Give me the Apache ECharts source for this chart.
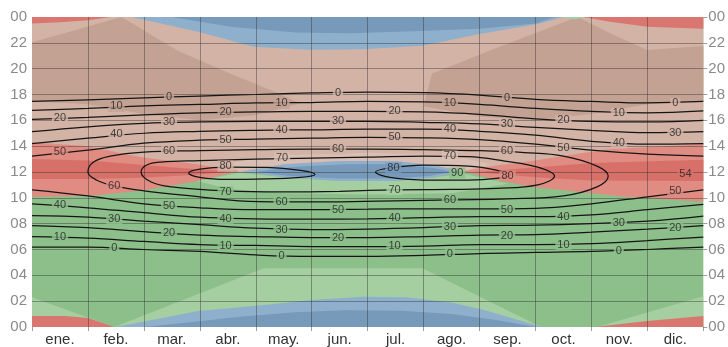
<!DOCTYPE html>
<html><head><meta charset="utf-8">
<script src="https://cdn.jsdelivr.net/npm/echarts@6/dist/echarts.min.js"></script>
<style>html,body{margin:0;padding:0;background:#fff}#c{width:728px;height:347px}</style>
</head><body><div id="c"></div>
<script>
// ---------- DATA ----------
const months = ['ene.','feb.','mar.','abr.','may.','jun.','jul.','ago.','sep.','oct.','nov.','dic.'];
const monthGrid = [0,1,2,3,4,5,6,7,8,9,10,11,12];
const hourTicks = [0,2,4,6,8,10,12,14,16,18,20,22,24];

// sun elevation contours, hour of day at each month boundary
const am0  = [6.19,6.19,6.00,5.85,5.58,5.46,5.46,5.54,5.69,5.77,5.85,6.00,6.19];
const am10 = [7.00,6.88,6.62,6.38,6.31,6.23,6.23,6.27,6.38,6.38,6.46,6.69,6.96];
const am20 = [7.85,7.69,7.38,7.12,7.00,6.92,6.92,7.00,7.12,7.15,7.35,7.58,7.85];
const am30 = [8.62,8.50,8.19,7.92,7.65,7.54,7.58,7.69,7.85,7.88,8.00,8.19,8.58];
const am40 = [9.54,9.23,8.85,8.50,8.38,8.35,8.38,8.46,8.54,8.54,8.69,9.08,9.50];
const am50 = [10.62,10.15,9.54,9.23,9.08,9.08,9.12,9.15,9.15,9.19,9.54,10.08,10.62];
const pm0  = [17.46,17.58,17.73,17.88,18.00,18.12,18.19,18.15,17.96,17.62,17.46,17.35,17.46];
const pm10 = [16.77,16.92,17.12,17.23,17.35,17.38,17.46,17.42,17.23,16.92,16.69,16.58,16.73];
const pm20 = [16.08,16.23,16.42,16.58,16.65,16.69,16.69,16.65,16.46,16.12,15.92,15.88,16.00];
const pm30 = [15.12,15.50,15.77,15.88,15.92,15.92,15.92,15.85,15.73,15.46,15.23,15.04,15.12];
const pm40 = [14.19,14.62,15.00,15.15,15.23,15.27,15.31,15.31,15.15,14.85,14.38,14.15,14.19];
const pm50 = [13.23,13.69,14.23,14.46,14.54,14.62,14.69,14.65,14.50,14.15,13.69,13.38,13.23];

// closed contours [month, hour]
const oval60 = [[5.5,9.69],[4.5,9.69],[3.7,9.77],[3,10.08],[2,10.54],[1.47,10.92],[1.15,11.38],[1.0,12.0],[1.1,12.77],[1.4,13.23],[2,13.54],[3,13.65],[4,13.73],[5,13.77],[6,13.77],[7,13.73],[8,13.65],[8.8,13.5],[9.5,13.23],[10.1,12.46],[10.3,11.69],[10.1,10.85],[9.5,10.15],[8.5,9.92],[7.5,9.85],[6.5,9.77],[5.5,9.69]];
const oval70 = [[5.5,10.5],[4.5,10.46],[3.46,10.54],[2.5,10.85],[2.13,11.23],[1.95,12.0],[2.05,12.54],[2.3,12.77],[3,12.88],[4,13.0],[5,13.08],[6,13.15],[7,13.23],[7.8,13.19],[8.45,12.85],[9.04,12.38],[9.34,11.69],[9.04,11.0],[8.3,10.73],[7.5,10.65],[6.46,10.62],[5.5,10.5]];
const oval80a = [[4.2,11.46],[3.5,11.42],[3.0,11.58],[2.8,11.92],[3.0,12.23],[3.5,12.38],[4.2,12.35],[4.8,12.12],[5.06,11.81],[4.8,11.58],[4.2,11.46]];
const oval80b = [[7.0,11.38],[6.4,11.58],[6.14,12.0],[6.4,12.31],[7.0,12.54],[7.8,12.46],[8.3,12.15],[8.55,11.77],[8.3,11.5],[7.8,11.38],[7.0,11.38]];

// contour labels [month, hour, text]
const contourLabels = [
 [2.45,17.80,'0'],[1.51,17.08,'10'],[0.50,16.15,'20'],[2.45,15.85,'30'],[1.51,14.92,'40'],[0.50,13.54,'50'],[2.45,13.62,'60'],
 [3.46,16.62,'20'],[3.46,14.46,'50'],[4.47,13.08,'70'],[5.47,18.15,'0'],[4.46,17.31,'10'],[5.47,15.92,'30'],[4.46,15.23,'40'],
 [5.47,13.77,'60'],[6.48,16.69,'20'],[6.48,14.69,'50'],[7.47,17.38,'10'],[7.47,15.31,'40'],[7.47,13.23,'70'],[8.49,17.77,'0'],
 [8.49,15.69,'30'],[8.49,13.62,'60'],[9.50,16.00,'20'],[9.50,13.85,'50'],[10.49,16.54,'10'],[10.49,14.23,'40'],[11.50,17.31,'0'],
 [11.50,15.00,'30'],
 [3.46,12.46,'80'],[6.46,12.31,'80'],[7.60,11.92,'90'],[8.50,11.69,'80'],[11.68,11.85,'54'],
 [0.50,9.46,'40'],[0.50,7.00,'10'],[1.47,10.92,'60'],[1.47,8.38,'30'],[1.47,6.15,'0'],[2.45,9.38,'50'],[2.45,7.31,'20'],
 [3.46,10.46,'70'],[3.46,8.38,'40'],[3.46,6.31,'10'],[4.46,9.69,'60'],[4.46,7.54,'30'],[4.46,5.50,'0'],[5.47,9.08,'50'],
 [5.47,6.92,'20'],[6.48,10.62,'70'],[6.48,8.46,'40'],[6.48,6.28,'10'],[7.47,9.85,'60'],[7.47,7.77,'30'],[7.47,5.62,'0'],
 [8.49,9.08,'50'],[8.49,7.08,'20'],[9.50,8.54,'40'],[9.50,6.38,'10'],[10.49,8.08,'30'],[10.49,5.90,'0'],[11.50,10.54,'50'],
 [11.50,7.69,'20']
];

// coloured regions (sun azimuth sectors) as polygons [month, hour]
const regAfternoon   = [[0,12],[12,12],[12,24],[0,24]];
const regWestDarkL   = [[0,17.5],[1,17.25],[2,16.5],[3,16.0],[4,16.4],[4.8,17.3],[4.3,18.3],[3.55,19.6],[2.6,21.4],[1.6,24],[0,22.05]];
const regWestDarkR   = [[12,17.5],[11,17.25],[10,16.5],[9,16.0],[8,16.3],[7.0,17.1],[7.15,19.6],[8.3,21.6],[9.75,24],[10.4,22.6],[11,21.45],[12,21.75]];
const regSouthTopL   = [[0,23.5],[0,24],[1.4,24],[1.0,23.75],[0.5,23.6]];
const regSouthTopR   = [[9.85,24],[12,24],[12,23.1],[11,23.25],[10.3,23.65]];
const regEastTop     = [[9.45,24],[9.9,24],[9.7,23.8]];
const regNorthTopL   = [[1.78,24],[2.97,22.85],[3.96,21.7],[4.97,21.46],[5.9,21.5],[6.98,21.77],[8.0,22.69],[9.04,23.46],[9.5,24]];
const regNorthTopD   = [[2.5,24],[3.55,23.25],[4.7,22.8],[5.7,22.75],[6.8,22.9],[8.0,23.1],[9.0,23.5],[9.35,24]];
const regEastLightBL = [[0,0],[0,2.3],[1.47,0]];
const regEastLightBR = [[10.1,0],[12,2.38],[12,0]];
const regEastLightBS = [[1.47,0],[4.14,4.54],[6.98,4.54],[9.1,0]];
const regSouthBotL   = [[0,0],[0,0.85],[0.6,0.85],[1.0,0.69],[1.37,0.15],[1.47,0]];
const regSouthBotR   = [[10.05,0],[11,0.46],[12,0.85],[12,0]];
const regNorthBotL   = [[1.47,0],[1.78,0.23],[2.97,1.23],[4.15,1.7],[5.0,2.1],[5.9,2.35],[6.7,2.3],[7.5,1.9],[8.1,1.3],[9.04,0.1],[9.15,0]];
const regNorthBotD   = [[2.0,0],[3.0,0.45],[3.7,0.8],[4.7,1.15],[5.6,1.3],[6.6,1.25],[7.5,1.0],[8.3,0.55],[9.0,0]];
const regEastNoon    = [[2.95,11.31],[3.7,11.95],[4.5,11.6],[5.5,11.3],[6.5,11.3],[7.2,11.6],[7.74,11.85],[8.5,11.1],[7.5,10.35],[6.0,10.25],[4.5,10.35],[3.5,10.7]];
const regWestNoon    = [[3.7,12.05],[4.5,12.6],[5.5,12.85],[6.5,12.85],[7.2,12.5],[7.7,12.05],[8.2,12.6],[7.5,13.3],[6.0,13.5],[4.5,13.3],[3.5,12.7]];
const regSouthNoonL  = [[0,14.31],[1,14.0],[1.95,13.15],[2.95,12.6],[3.7,12.05],[2.95,11.31],[1.95,10.54],[1,10.15],[0,10.08]];
const regSouthNoonLD = [[0,13.0],[1,12.9],[2,12.55],[3,12.2],[3.6,12.05],[3,11.8],[2,11.55],[1,11.45],[0,11.45]];
const regSouthNoonR  = [[7.7,12.05],[8.3,12.5],[8.93,12.85],[10.28,13.77],[12,14.15],[12,9.7],[10.6,10.08],[8.93,10.85],[8.3,11.4]];
const regSouthNoonRD = [[7.9,12.0],[9,12.35],[10,12.7],[12,12.95],[12,11.3],[10,11.35],[9,11.6]];
const regNorthNoon   = [[3.75,12.02],[4.5,12.6],[5.5,12.85],[6.5,12.85],[7.2,12.5],[7.7,12.05],[7.2,11.6],[6.5,11.3],[5.5,11.3],[4.5,11.6]];
const regNorthNoonD  = [[4.0,12.02],[4.7,12.4],[5.6,12.6],[6.5,12.6],[7.2,12.3],[7.5,12.02],[7.1,11.7],[6.4,11.5],[5.5,11.5],[4.6,11.7]];

// ---------- STYLE ----------
const C = {
  gDark:'#8dbf8b', gLight:'#a5cfa0',
  tLight:'#d2b3a5', tDark:'#c3a293', tVLight:'#d9bfb3',
  rLight:'#e08c83', rDark:'#d8706a', rEdge:'#da7670',
  bLight:'#8fb0cd', bDark:'#7799ba'
};
const layers = [
  {pts:regAfternoon, color:C.tLight},
  {pts:regWestDarkL, color:C.tDark},
  {pts:regWestDarkR, color:C.tDark},
  {pts:regSouthTopL, color:C.rEdge},
  {pts:regSouthTopR, color:C.rEdge},
  {pts:regEastTop, color:C.gLight},
  {pts:regNorthTopL, color:C.bLight},
  {pts:regNorthTopD, color:C.bDark},
  {pts:regEastLightBL, color:C.gLight},
  {pts:regEastLightBR, color:C.gLight},
  {pts:regEastLightBS, color:C.gLight},
  {pts:regSouthBotL, color:C.rEdge},
  {pts:regSouthBotR, color:C.rEdge},
  {pts:regNorthBotL, color:C.bLight},
  {pts:regNorthBotD, color:C.bDark},
  {pts:regEastNoon, color:C.gLight},
  {pts:regWestNoon, color:C.tVLight},
  {pts:regSouthNoonL, color:C.rLight},
  {pts:regSouthNoonLD, color:C.rDark},
  {pts:regSouthNoonR, color:C.rLight},
  {pts:regSouthNoonRD, color:C.rDark},
  {pts:regNorthNoon, color:C.bLight},
  {pts:regNorthNoonD, color:C.bDark}
];

function inPoly(p, poly){
  let inside=false;
  for(let i=0,j=poly.length-1;i<poly.length;j=i++){
    const xi=poly[i][0], yi=poly[i][1], xj=poly[j][0], yj=poly[j][1];
    if(((yi>p[1])!==(yj>p[1])) && (p[0] < (xj-xi)*(p[1]-yi)/(yj-yi)+xi)) inside=!inside;
  }
  return inside;
}
function colorAt(m,h){
  for(let i=layers.length-1;i>=0;i--) if(inPoly([m,h],layers[i].pts)) return layers[i].color;
  return C.gDark;
}

const FONT = '"Liberation Sans", Arial, Helvetica, sans-serif';
const series = [];
series.push({type:'custom', silent:true, z:1, clip:true, data:[[0,0]],
  renderItem:(p,api)=>{ const a=api.coord([0,24]), b=api.coord([12,0]);
    return {type:'rect', shape:{x:a[0],y:a[1],width:b[0]-a[0],height:b[1]-a[1]}, style:{fill:C.gDark}}; }});
layers.forEach((L,i)=>{
  series.push({type:'custom', silent:true, z:2, clip:true, data:[[0,0]],
    renderItem:(p,api)=>({type:'polygon', z2:i, shape:{points:L.pts.map(q=>api.coord(q))}, style:{fill:L.color}})});
});
series.push({type:'line', data:[], z:5, silent:true,
  markLine:{silent:true, symbol:['none','none'], label:{show:false}, animation:false,
    lineStyle:{color:'rgba(40,40,40,0.4)', width:1, type:'solid'},
    data: monthGrid.slice(1,12).map(m=>({xAxis:m})).concat(hourTicks.slice(1,12).map(h=>({yAxis:h})))}});

const contourStyle = {color:'#151515', width:1.25};
function toPts(arr){ return arr.map((h,i)=>[monthGrid[i],h]); }
[am0,am10,am20,am30,am40,am50,pm0,pm10,pm20,pm30,pm40,pm50].forEach(a=>{
  series.push({type:'line', data:toPts(a), smooth:0.4, showSymbol:false, symbol:'none', silent:true, z:6, lineStyle:contourStyle});
});
[oval60,oval70,oval80a,oval80b].forEach(o=>{
  series.push({type:'line', data:o, smooth:0.4, showSymbol:false, symbol:'none', silent:true, z:6, lineStyle:contourStyle});
});
series.push({type:'scatter', silent:true, z:8, symbolSize:1, itemStyle:{color:'rgba(0,0,0,0)'},
  data: contourLabels.map(l=>({value:[l[0],l[1]], name:l[2], label:{backgroundColor:colorAt(l[0],l[1])}})),
  label:{show:true, position:'inside', formatter:p=>p.name, fontSize:11, color:'#222', fontFamily:FONT, padding:[0,2,0,2]}});

const chart = echarts.init(document.getElementById('c'), null, {renderer:'canvas'});
const yFmt = v => String(v%24).padStart(2,'0');
chart.setOption({
  animation:false,
  grid:{left:32, right:20, top:17, bottom:18, containLabel:false},
  xAxis:[
    {type:'value', min:0, max:12, interval:1, axisLabel:{show:false}, axisLine:{show:false},
     axisTick:{show:true, length:4, lineStyle:{color:'rgba(40,40,40,0.45)'}}, splitLine:{show:false}},
    {type:'category', data:months, position:'bottom', boundaryGap:true, axisLine:{show:false}, axisTick:{show:false},
     axisLabel:{color:'#333', fontSize:15, margin:5, fontFamily:FONT}, splitLine:{show:false}}
  ],
  yAxis:[
    {type:'value', min:0, max:24, interval:2, position:'left', axisLine:{show:false}, axisTick:{show:false},
     axisLabel:{formatter:yFmt, color:'#8a8a8a', fontSize:15, margin:5, fontFamily:FONT}, splitLine:{show:false}},
    {type:'value', min:0, max:24, interval:2, position:'right', axisLine:{show:false},
     axisTick:{show:true, length:4, lineStyle:{color:'rgba(40,40,40,0.45)'}},
     axisLabel:{formatter:yFmt, color:'#8a8a8a', fontSize:15, margin:5, fontFamily:FONT}, splitLine:{show:false}}
  ],
  series: series
});
</script>
</body></html>
